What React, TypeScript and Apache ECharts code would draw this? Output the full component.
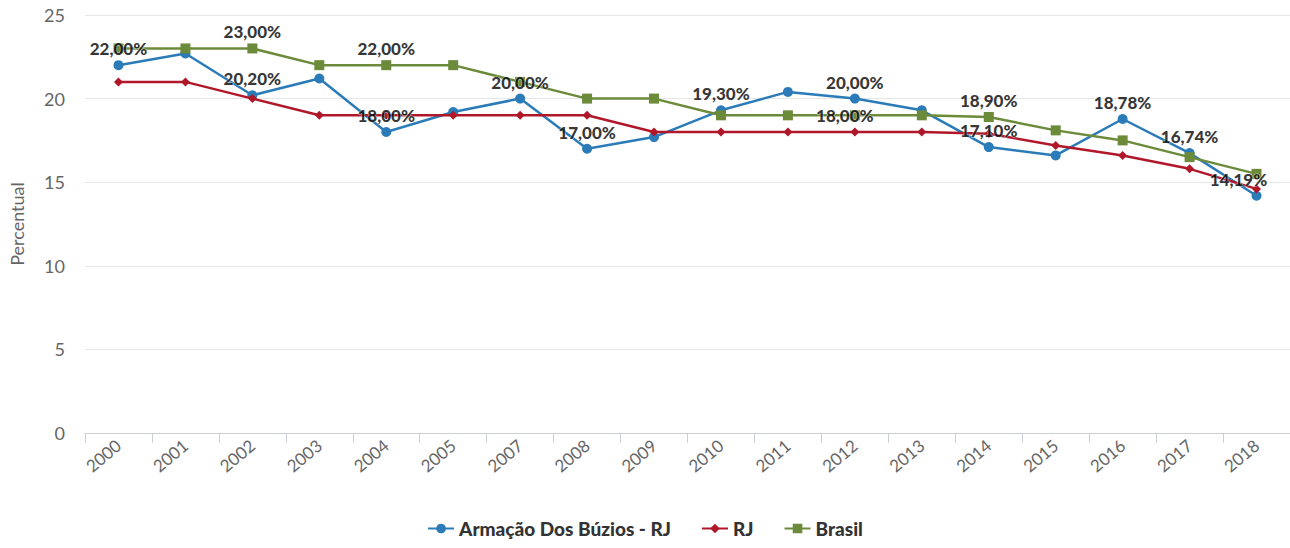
import React, { useEffect, useRef } from "react";
import * as echarts from "echarts";

// Taxa percentual por ano: Armação dos Búzios, estado do RJ e Brasil
const years = [
  "2000", "2001", "2002", "2003", "2004", "2005", "2007", "2008", "2009",
  "2010", "2011", "2012", "2013", "2014", "2015", "2016", "2017", "2018",
];
const buzios = [22.0, 22.7, 20.2, 21.2, 18.0, 19.2, 20.0, 17.0, 17.7, 19.3, 20.4, 20.0, 19.3, 17.1, 16.6, 18.78, 16.74, 14.19];
const rj = [21, 21, 20, 19, 19, 19, 19, 19, 18, 18, 18, 18, 18, 17.9, 17.2, 16.6, 15.8, 14.6];
const brasil = [23, 23, 23, 22, 22, 22, 21, 20, 20, 19, 19, 19, 19, 18.9, 18.1, 17.5, 16.5, 15.5];

// Anos em que o valor de cada série aparece escrito
const buziosLabelYears = ["2000", "2002", "2004", "2007", "2008", "2010", "2012", "2014", "2016", "2017", "2018"];
const rjLabelYears = ["2012"];
const brasilLabelYears = ["2002", "2004", "2014"];

const yTicks = [0, 5, 10, 15, 20, 25];

const seriesNames = ["Armação Dos Búzios - RJ", "RJ", "Brasil"];
const colors = ["#2a7bb8", "#b0182a", "#6b8a3a"];

const fmt = (v: number) => v.toFixed(2).replace(".", ",") + "%";

function labelPoints(labelYears: string[], values: number[]) {
  return labelYears.map((y) => [y, values[years.indexOf(y)]]);
}

export default function App() {
  const ref = useRef<HTMLDivElement>(null);

  useEffect(() => {
    if (!ref.current) return;
    const chart = echarts.init(ref.current, undefined, { renderer: "svg" });
    const font = "Lato, 'Open Sans', sans-serif";

    const lineSeries = (i: number, data: number[], symbol: string, size: number) => ({
      name: seriesNames[i],
      type: "line",
      data,
      symbol,
      symbolSize: size,
      showSymbol: true,
      itemStyle: { color: colors[i] },
      lineStyle: { color: colors[i], width: 2.5 },
      z: 2 + i,
    });

    const labelSeries = (name: string, data: any[], offsetFor?: (y: string) => number[]) => ({
      name,
      type: "scatter",
      data: data.map((d) => ({
        value: d,
        label: offsetFor ? { offset: offsetFor(d[0]) } : undefined,
      })),
      symbolSize: 0,
      silent: true,
      z: 10,
      label: {
        show: true,
        position: "top",
        distance: 8,
        formatter: (p: any) => fmt(p.value[1]),
        color: "#000",
        fontFamily: font,
        fontWeight: 900,
        fontSize: 17,
        textBorderColor: "rgba(255,255,255,0.8)",
        textBorderWidth: 1,
      },
    });

    chart.setOption({
      animation: false,
      backgroundColor: "#fff",
      textStyle: { fontFamily: font },
      grid: { left: 85, right: -3, top: 15, bottom: 115, containLabel: false },
      legend: {
        data: seriesNames,
        bottom: 5,
        left: "center",
        itemWidth: 26,
        itemHeight: 12,
        itemGap: 30,
        textStyle: { color: "#333", fontWeight: 900, fontSize: 19, fontFamily: font },
      },
      xAxis: {
        type: "category",
        data: years,
        boundaryGap: true,
        axisLine: { lineStyle: { color: "#ccd0d6" } },
        axisTick: { show: true, length: 10, lineStyle: { color: "#ccd0d6" } },
        axisLabel: { rotate: 40, color: "#666", fontSize: 17, margin: 10, fontFamily: font },
      },
      yAxis: {
        type: "value",
        min: yTicks[0],
        max: yTicks[yTicks.length - 1],
        interval: 5,
        name: "Percentual",
        nameLocation: "middle",
        nameGap: 59,
        nameTextStyle: { color: "#666", fontSize: 18, fontFamily: font },
        axisLine: { show: false },
        axisTick: { show: false },
        axisLabel: { color: "#666", fontSize: 18, margin: 20, fontFamily: font },
        splitLine: { lineStyle: { color: "#e6e6e6" } },
      },
      series: [
        lineSeries(0, buzios, "circle", 10),
        lineSeries(1, rj, "diamond", 9),
        lineSeries(2, brasil, "rect", 10),
        labelSeries("rótulos-buzios", labelPoints(buziosLabelYears, buzios), (y) => (y === "2018" ? [-18, 0] : [0, 0])),
        labelSeries("rótulos-rj", labelPoints(rjLabelYears, rj), () => [-10, 0]),
        labelSeries("rótulos-brasil", labelPoints(brasilLabelYears, brasil)),
      ],
    });

    return () => chart.dispose();
  }, []);

  return (
    <div
      ref={ref}
      style={{ position: "fixed", left: 0, top: 0, width: 1290, height: 548 }}
    />
  );
}
